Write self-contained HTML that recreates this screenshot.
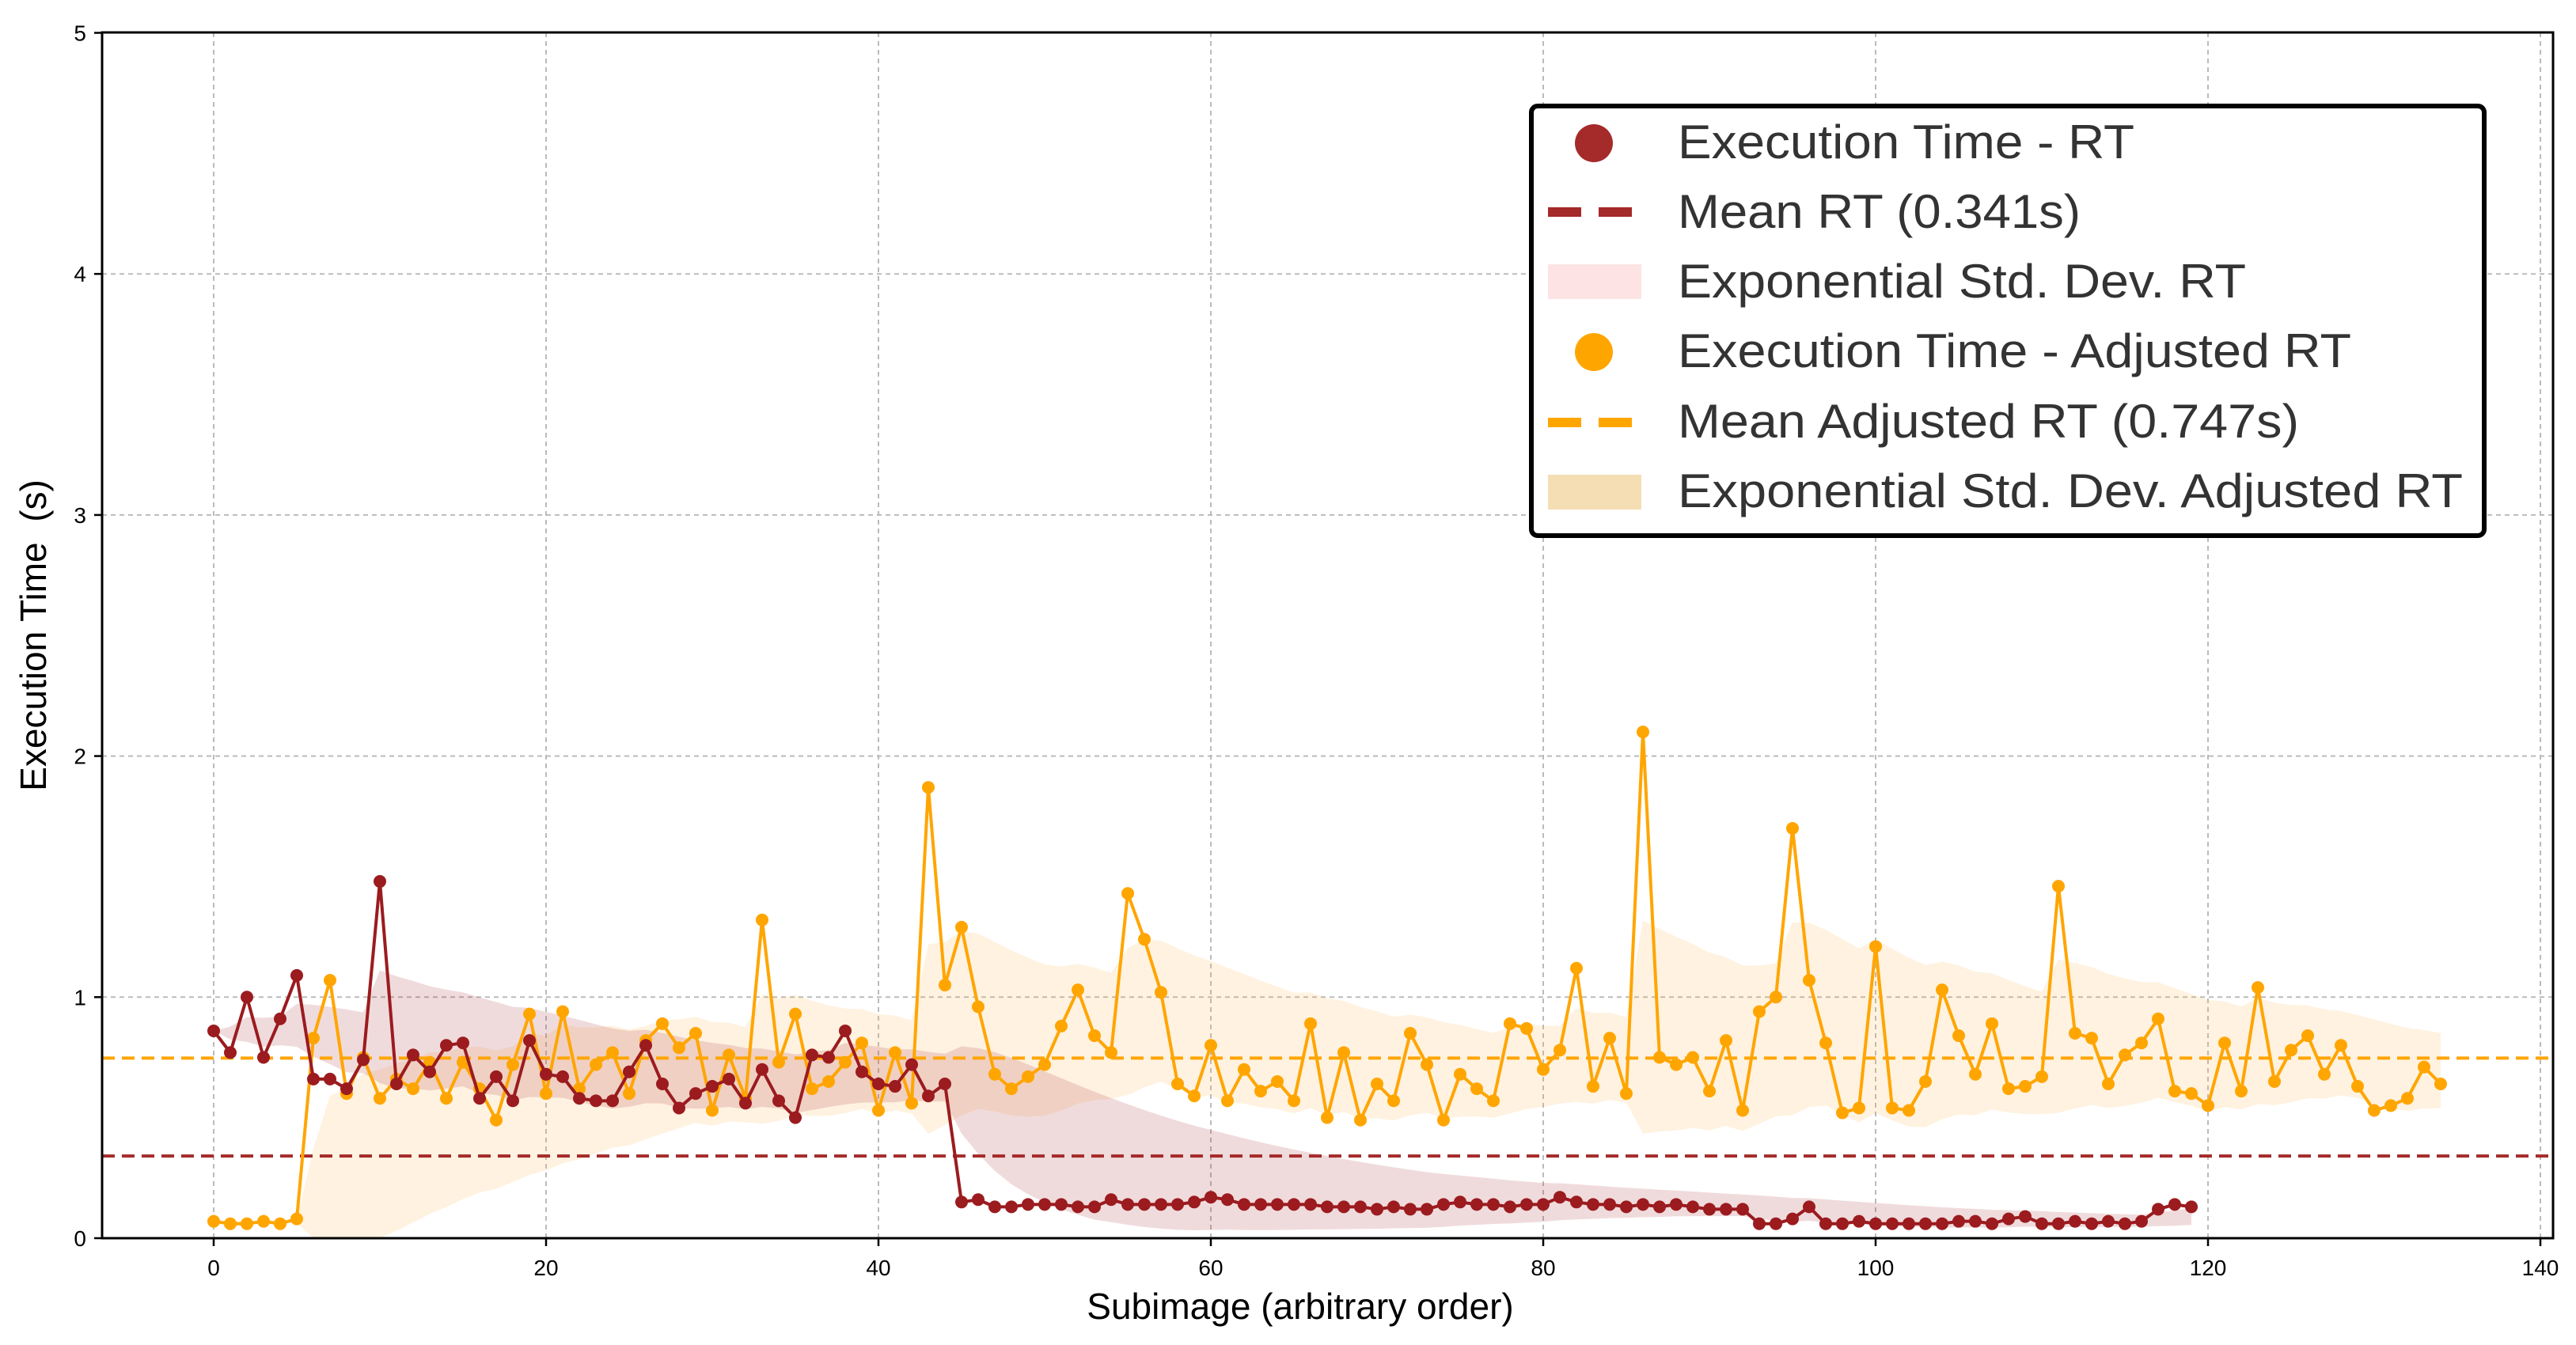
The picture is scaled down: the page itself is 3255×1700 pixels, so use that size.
<!DOCTYPE html>
<html><head><meta charset="utf-8"><style>
html,body{margin:0;padding:0;background:#fff;}
svg{display:block;font-family:"Liberation Sans","DejaVu Sans",sans-serif;}
</style></head><body>
<svg id="chart" width="3255" height="1700" viewBox="0 0 3255 1700" xmlns="http://www.w3.org/2000/svg">
<rect x="0" y="0" width="3255" height="1700" fill="#fff"/>
<g id="grid"></g>
<g id="bands"></g>
<g id="means"></g>
<g id="series"></g>
<g id="axes"></g>
<text x="1643" y="1667" font-size="46" text-anchor="middle" fill="#000">Subimage (arbitrary order)</text>
<text transform="translate(58,803) rotate(-90)" font-size="46" text-anchor="middle" fill="#000" xml:space="preserve">Execution Time  (s)</text>
<g>
<rect x="1935" y="134" width="1204" height="543" rx="8" fill="#fff" stroke="#000" stroke-width="6"/>
<g><circle cx="2014" cy="181" r="24" fill="#a52a2a"/><text x="2120" y="200" font-size="60" fill="#333" textLength="577" lengthAdjust="spacingAndGlyphs">Execution Time - RT</text></g>
<g><line x1="1956" y1="268" x2="2064" y2="268" stroke="#a52a2a" stroke-width="12" stroke-dasharray="42,22"/><text x="2120" y="288" font-size="60" fill="#333" textLength="509" lengthAdjust="spacingAndGlyphs">Mean RT (0.341s)</text></g>
<g><rect x="1956" y="334" width="118" height="44" fill="#fde3e3"/><text x="2120" y="376" font-size="60" fill="#333" textLength="718" lengthAdjust="spacingAndGlyphs">Exponential Std. Dev. RT</text></g>
<g><circle cx="2014" cy="445" r="24" fill="#ffa500"/><text x="2120" y="464" font-size="60" fill="#333" textLength="851" lengthAdjust="spacingAndGlyphs">Execution Time - Adjusted RT</text></g>
<g><line x1="1956" y1="534" x2="2064" y2="534" stroke="#ffa500" stroke-width="12" stroke-dasharray="42,22"/><text x="2120" y="553" font-size="60" fill="#333" textLength="785" lengthAdjust="spacingAndGlyphs">Mean Adjusted RT (0.747s)</text></g>
<g><rect x="1956" y="600" width="118" height="44" fill="#f5deb3"/><text x="2120" y="641" font-size="60" fill="#333" textLength="992" lengthAdjust="spacingAndGlyphs">Exponential Std. Dev. Adjusted RT</text></g>
</g>
</svg>
<script>
const rtValues=[0.86,0.77,1.0,0.75,0.91,1.09,0.66,0.66,0.62,0.74,1.48,0.64,0.76,0.69,0.80,0.81,0.58,0.67,0.57,0.82,0.68,0.67,0.58,0.57,0.57,0.69,0.80,0.64,0.54,0.60,0.63,0.66,0.56,0.70,0.57,0.50,0.76,0.75,0.86,0.69,0.64,0.63,0.72,0.59,0.64,
0.15,0.16,0.13,0.13,0.14,0.14,0.14,0.13,0.13,0.16,0.14,0.14,0.14,0.14,0.15,0.17,0.16,0.14,0.14,0.14,0.14,0.14,0.13,0.13,0.13,0.12,0.13,0.12,0.12,0.14,0.15,0.14,0.14,0.13,0.14,
0.14,0.17,0.15,0.14,0.14,0.13,0.14,0.13,0.14,0.13,
0.12,0.12,0.12,0.06,0.06,0.08,0.13,0.06,0.06,0.07,0.06,0.06,0.06,0.06,0.06,0.07,0.07,0.06,0.08,0.09,0.06,0.06,0.07,0.06,0.07,0.06,0.07,0.12,0.14,0.13];
const adjValues=[0.07,0.06,0.06,0.07,0.06,0.08,0.83,1.07,0.60,0.75,0.58,0.66,0.62,0.73,0.58,0.73,0.62,0.49,0.72,0.93,0.60,0.94,0.62,0.72,0.77,0.60,0.82,0.89,0.79,0.85,0.53,0.76,0.58,1.32,0.73,0.93,0.62,0.65,0.73,0.81,0.53,0.77,0.56,1.87,1.05,1.29,0.96,0.68,0.62,0.67,0.72,0.88,1.03,0.84,0.77,1.43,1.24,1.02,0.64,0.59,0.80,0.57,0.70,0.61,0.65,0.57,0.89,0.50,0.77,0.49,0.64,0.57,0.85,0.72,0.49,0.68,0.62,0.57,0.89,0.87,0.70,0.78,1.12,0.63,0.83,0.60,2.10,0.75,0.72,0.75,0.61,0.82,0.53,0.94,1.00,1.70,1.07,0.81,0.52,0.54,1.21,0.54,0.53,0.65,1.03,0.84,0.68,0.89,0.62,0.63,0.67,1.46,0.85,0.83,0.64,0.76,0.81,0.91,0.61,0.60,0.55,0.81,0.61,1.04,0.65,0.78,0.84,0.68,0.80,0.63,0.53,0.55,0.58,0.71,0.64];
const meanRT=0.341;
const meanAdj=0.747;
const xTicks=[0,20,40,60,80,100,120,140];
const yTicks=[0,1,2,3,4,5];

const NS="http://www.w3.org/2000/svg";
const L=129,R=3226,T=41,B=1565;
const X=v=>270+v*21.0;
const Y=v=>1565-v*304.7;
function mk(tag,attrs,parent){const e=document.createElementNS(NS,tag);for(const k in attrs)e.setAttribute(k,attrs[k]);parent.appendChild(e);return e;}
const grid=document.getElementById('grid'),axes=document.getElementById('axes'),bands=document.getElementById('bands'),means=document.getElementById('means'),series=document.getElementById('series');

xTicks.forEach(t=>{
  const g=mk('line',{x1:X(t),x2:X(t),y1:T,y2:B,stroke:'#bbb','stroke-width':2,'stroke-dasharray':'6,5'},grid);
  
  
  const tk=mk('line',{x1:X(t),x2:X(t),y1:B,y2:B+10,stroke:'#000','stroke-width':2.5},axes);
  
  
  const tx=mk('text',{x:X(t),y:B+47,'font-size':28,'text-anchor':'middle',fill:'#000'},axes);
  tx.textContent=t;
  
  
});
yTicks.forEach(t=>{
  if(t>0&&t<5){const g=mk('line',{x1:L,x2:R,y1:Y(t),y2:Y(t),stroke:'#bbb','stroke-width':2,'stroke-dasharray':'6,5'},grid);
  
  }
  const tk=mk('line',{x1:L-10,x2:L,y1:Y(t),y2:Y(t),stroke:'#000','stroke-width':2.5},axes);
  
  
  const tx=mk('text',{x:L-20,y:Y(t)+10,'font-size':28,'text-anchor':'end',fill:'#000'},axes);
  tx.textContent=t;
  
  
});
const frame=mk('rect',{x:L,y:T,width:R-L,height:B-T,fill:'none',stroke:'#000','stroke-width':3},axes);



function ewm(vals,alpha){
  let m=vals[0],v=0;const up=[],lo=[];
  vals.forEach((x,i)=>{
    if(i>0){const d=x-m;m=m+alpha*d;v=(1-alpha)*(v+alpha*d*d);}
    const s=Math.sqrt(v);up.push(m+s);lo.push(m-s);
  });
  return {up,lo};
}
function band(vals,fill,name){
  const b=ewm(vals,0.1);
  let d='';
  b.up.forEach((u,i)=>{d+=(i?'L':'M')+X(i)+','+Y(u);});
  for(let i=vals.length-1;i>=0;i--)d+='L'+X(i)+','+Math.min(B,Y(b.lo[i]));
  const p=mk('path',{d:d+'Z',fill:fill},bands);
  
  
}
band(adjValues,'rgba(255,175,60,0.16)','std-band-adjusted');
band(rtValues,'rgba(165,40,50,0.17)','std-band-rt');

const m1=mk('line',{x1:L,x2:R,y1:Y(meanRT),y2:Y(meanRT),stroke:'#a52a2a','stroke-width':4,'stroke-dasharray':'16,9'},means);


const m2=mk('line',{x1:L,x2:R,y1:Y(meanAdj),y2:Y(meanAdj),stroke:'#ffa500','stroke-width':4,'stroke-dasharray':'16,9'},means);



function line(vals,color,name){
  const pts=vals.map((v,i)=>X(i)+','+Y(v)).join(' ');
  const pl=mk('polyline',{points:pts,fill:'none',stroke:color,'stroke-width':4,'stroke-linejoin':'round'},series);
  
  
  vals.forEach((v,i)=>{
    const c=mk('circle',{cx:X(i),cy:Y(v),r:8,fill:color},series);
    
    
  });
}
line(adjValues,'#ffa500','adjusted-rt');
line(rtValues,'#9b1b1f','rt');
</script>
</body></html>
